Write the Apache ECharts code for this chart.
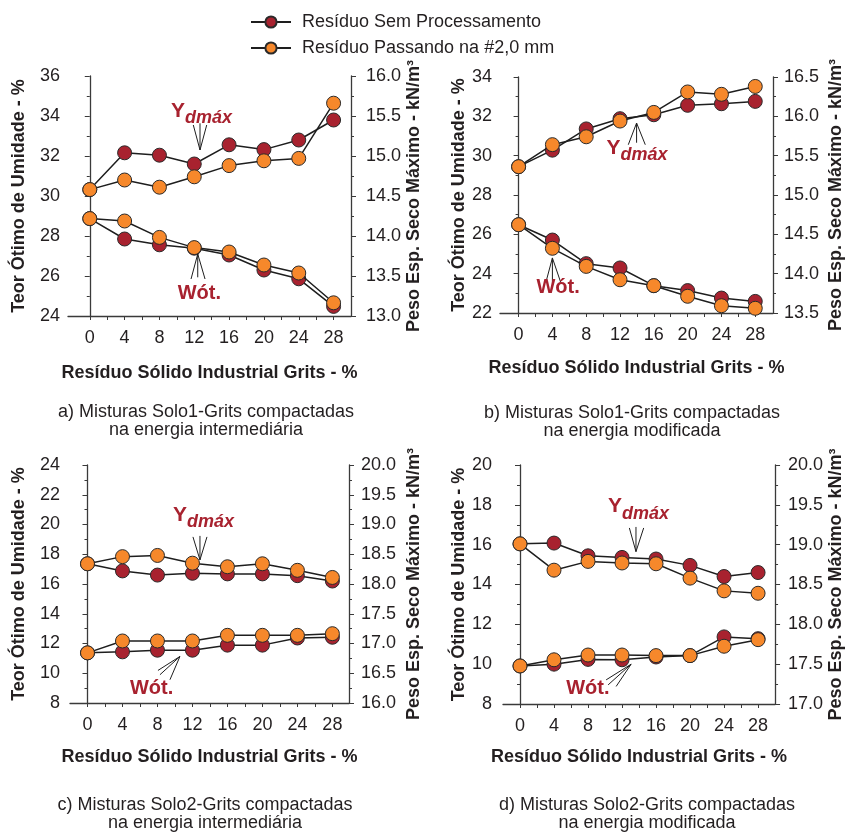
<!DOCTYPE html>
<html>
<head>
<meta charset="utf-8">
<script src="https://cdn.jsdelivr.net/npm/echarts@6/dist/echarts.min.js"></script>
<style>
html, body { margin: 0; background: #fff; }
#chart { width: 846px; height: 834px; }
</style>
</head>
<body>
<div id="chart"></div>
<script>
// x: residuo solido industrial grits (%)
var xValues = [0, 4, 8, 12, 16, 20, 24, 28];
var xTicks = [0, 2, 4, 6, 8, 10, 12, 14, 16, 18, 20, 22, 24, 26, 28];

var seriesNames = ['Resíduo Sem Processamento', 'Resíduo Passando na #2,0 mm'];

// a) Solo1 - energia intermediaria
var gammaA_sem  = [14.58, 15.04, 15.01, 14.90, 15.14, 15.08, 15.20, 15.45];
var gammaA_pass = [14.58, 14.70, 14.61, 14.74, 14.88, 14.94, 14.97, 15.66];
var wA_sem      = [28.87, 27.85, 27.56, 27.39, 27.05, 26.30, 25.86, 24.48];
var wA_pass     = [28.87, 28.75, 27.93, 27.42, 27.20, 26.55, 26.15, 24.66];

// b) Solo1 - energia modificada
var gammaB_sem  = [15.36, 15.57, 15.84, 15.97, 16.02, 16.14, 16.16, 16.19];
var gammaB_pass = [15.36, 15.64, 15.74, 15.94, 16.05, 16.31, 16.28, 16.38];
var wB_sem      = [26.49, 25.71, 24.51, 24.29, 23.39, 23.14, 22.76, 22.59];
var wB_pass     = [26.49, 25.29, 24.37, 23.69, 23.39, 22.85, 22.37, 22.24];

// c) Solo2 - energia intermediaria
var gammaC_sem  = [18.34, 18.22, 18.15, 18.18, 18.17, 18.17, 18.14, 18.05];
var gammaC_pass = [18.34, 18.46, 18.48, 18.35, 18.29, 18.34, 18.23, 18.11];
var wC_sem      = [11.37, 11.44, 11.55, 11.55, 11.89, 11.89, 12.37, 12.42];
var wC_pass     = [11.37, 12.17, 12.17, 12.17, 12.55, 12.55, 12.55, 12.66];

// d) Solo2 - energia modificada
var gammaD_sem  = [19.01, 19.02, 18.86, 18.84, 18.82, 18.74, 18.60, 18.65];
var gammaD_pass = [19.01, 18.68, 18.79, 18.77, 18.76, 18.58, 18.42, 18.39];
var wD_sem      = [9.91, 10.00, 10.24, 10.22, 10.36, 10.43, 11.37, 11.28];
var wD_pass     = [9.91, 10.22, 10.46, 10.46, 10.43, 10.43, 10.90, 11.23];

var captions = [
  'a) Misturas Solo1-Grits compactadas\nna energia intermediária',
  'b) Misturas Solo1-Grits compactadas\nna energia modificada',
  'c) Misturas Solo2-Grits compactadas\nna energia intermediária',
  'd) Misturas Solo2-Grits compactadas\nna energia modificada'
];

var FONT = '"Liberation Sans", Arial, sans-serif';
var INK = '#231f20';
var RED = '#a8222f';
var ORANGE = '#f6882b';

var panels = [
  { grid: {left: 68, top: 76, width: 283, height: 240}, xMin: -2.5, xMax: 30,
    wMin: 24, wMax: 36, gMin: 13, gMax: 16, leftGap: 40, rightGap: 54, xGap: 48,
    lMargin: 8, rMargin: 15, cap: [206, 403],
    gamma: [gammaA_sem, gammaA_pass], w: [wA_sem, wA_pass] },
  { grid: {left: 500, top: 77, width: 276, height: 236}, xMin: -2.2, xMax: 30.1,
    wMin: 22, wMax: 34, gMin: 13.5, gMax: 16.5, leftGap: 32, rightGap: 54, xGap: 46,
    lMargin: 8, rMargin: 11, cap: [632, 404],
    gamma: [gammaB_sem, gammaB_pass], w: [wB_sem, wB_pass] },
  { grid: {left: 70, top: 465, width: 279, height: 238}, xMin: -2, xMax: 29.9,
    wMin: 8, wMax: 24, gMin: 16, gMax: 20, leftGap: 42, rightGap: 56, xGap: 45,
    lMargin: 10, rMargin: 12, cap: [205, 796],
    gamma: [gammaC_sem, gammaC_pass], w: [wC_sem, wC_pass] },
  { grid: {left: 503, top: 465, width: 277, height: 239}, xMin: -2, xMax: 30,
    wMin: 8, wMax: 20, gMin: 17, gMax: 20, leftGap: 35, rightGap: 50, xGap: 44,
    lMargin: 11, rMargin: 13, cap: [647, 796],
    gamma: [gammaD_sem, gammaD_pass], w: [wD_sem, wD_pass] }
];

// annotation arrows: anchor in data units (x, left axis), offsets in px
var annotations = [
  { p: 0, kind: 'Y', at: [12.66, 32.3], legs: [[-6.7, -25], [0, -26.7], [6.7, -25]], text: [-29, -39] },
  { p: 0, kind: 'W', at: [12.4, 27.1], legs: [[-6.7, 25], [0, 23.3], [7.3, 25]], text: [-20, 39] },
  { p: 1, kind: 'Y', at: [13.96, 31.66], legs: [[-8.3, 21.7], [0, 19.7], [8.7, 21.7]], text: [-30, 25] },
  { p: 1, kind: 'W', at: [4.0, 24.8], legs: [[-6.6, 24.7], [0, 23.7], [8.4, 24.7]], text: [-16, 30] },
  { p: 2, kind: 'Y', at: [12.86, 17.62], legs: [[-7, -23], [0, -24], [7, -23]], text: [-27, -45] },
  { p: 2, kind: 'W', at: [10.57, 11.13], legs: [[-22, 14], [-20, 18.3], [-10, 23.3]], text: [-50, 32] },
  { p: 3, kind: 'Y', at: [13.64, 15.65], legs: [[-6.6, -23.7], [0, -24.7], [7.7, -23.7]], text: [-28, -45] },
  { p: 3, kind: 'W', at: [13.07, 10.0], legs: [[-25, 15.7], [-23, 20.7], [-15, 22.3]], text: [-65, 24] }
];

function pairs(ys) {
  return xValues.map(function (x, i) { return [x, ys[i]]; });
}

var grids = [], xAxes = [], yAxes = [], series = [], graphics = [];
var axisLine = { show: true, lineStyle: { color: '#3a3a3a', width: 1.3 } };

panels.forEach(function (p, i) {
  grids.push(p.grid);
  xAxes.push({
    type: 'value', gridIndex: i, min: p.xMin, max: p.xMax,
    name: 'Resíduo Sólido Industrial Grits - %', nameLocation: 'middle', nameGap: p.xGap,
    nameTextStyle: { fontFamily: FONT, fontSize: 18, fontWeight: 'bold', color: INK },
    axisLine: axisLine, splitLine: { show: false },
    axisTick: { show: true, length: 4, customValues: xTicks, lineStyle: { color: '#3a3a3a' } },
    axisLabel: { customValues: xValues, margin: 13, fontFamily: FONT, fontSize: 18, color: INK }
  });
  yAxes.push({
    type: 'value', gridIndex: i, position: 'left', min: p.wMin, max: p.wMax, interval: 2,
    name: 'Teor Ótimo de Umidade - %', nameLocation: 'middle', nameRotate: 90, nameGap: p.leftGap,
    nameTextStyle: { fontFamily: FONT, fontSize: 18, fontWeight: 'bold', color: INK },
    axisLine: axisLine, splitLine: { show: false },
    axisTick: { show: true, length: 5, lineStyle: { color: '#3a3a3a' } },
    minorTick: { show: true, splitNumber: 2, length: 3, lineStyle: { color: '#3a3a3a' } },
    axisLabel: { margin: p.lMargin, fontFamily: FONT, fontSize: 18, color: INK }
  });
  yAxes.push({
    type: 'value', gridIndex: i, position: 'right', min: p.gMin, max: p.gMax, interval: 0.5,
    name: 'Peso Esp. Seco Máximo - kN/m³', nameLocation: 'middle', nameRotate: 90, nameGap: p.rightGap,
    nameTextStyle: { fontFamily: FONT, fontSize: 18, fontWeight: 'bold', color: INK },
    axisLine: axisLine, splitLine: { show: false },
    axisTick: { show: true, length: 5, lineStyle: { color: '#3a3a3a' } },
    minorTick: { show: true, splitNumber: 2, length: 3, lineStyle: { color: '#3a3a3a' } },
    axisLabel: { margin: p.rMargin, fontFamily: FONT, fontSize: 18, color: INK,
      formatter: function (v) { return v.toFixed(1); } }
  });

  [0, 1].forEach(function (k) {
    var style = {
      type: 'line', xAxisIndex: i, symbol: 'circle', symbolSize: 14,
      itemStyle: { color: k === 0 ? RED : ORANGE, borderColor: '#2a2a2a', borderWidth: 1 },
      lineStyle: { color: '#1e1e1e', width: 1.5 }, animation: false, z: 2 + k
    };
    series.push(Object.assign({}, style, { name: seriesNames[k], yAxisIndex: 2 * i + 1, data: pairs(p.gamma[k]) }));
    series.push(Object.assign({}, style, { name: seriesNames[k], yAxisIndex: 2 * i, data: pairs(p.w[k]) }));
  });

  graphics.push({
    type: 'text', x: p.cap[0], y: p.cap[1],
    style: { text: captions[i], align: 'center', verticalAlign: 'top', lineHeight: 18,
      font: '18px ' + FONT, fill: INK }
  });
});

var chart = echarts.init(document.getElementById('chart'));
chart.setOption({
  animation: false,
  legend: {
    data: seriesNames, orient: 'vertical', left: 250, top: 13, padding: 0,
    itemWidth: 40, itemHeight: 14, itemGap: 8,
    textStyle: { fontFamily: FONT, fontSize: 18, color: INK, padding: [0, 0, 0, 6] }
  },
  grid: grids, xAxis: xAxes, yAxis: yAxes, series: series
});

annotations.forEach(function (a) {
  var c = chart.convertToPixel({ xAxisIndex: a.p, yAxisIndex: 2 * a.p }, a.at);
  a.legs.forEach(function (l) {
    graphics.push({ type: 'line', shape: { x1: c[0], y1: c[1], x2: c[0] + l[0], y2: c[1] + l[1] },
      style: { stroke: '#1e1e1e', lineWidth: 1 }, z: 10 });
  });
  var tx = c[0] + a.text[0], ty = c[1] + a.text[1];
  if (a.kind === 'Y') {
    graphics.push({ type: 'text', x: tx, y: ty, z: 10,
      style: { text: 'Y', font: 'bold 21px ' + FONT, fill: RED, align: 'left', verticalAlign: 'middle' } });
    graphics.push({ type: 'text', x: tx + 14, y: ty + 7, z: 10,
      style: { text: 'dmáx', font: 'italic bold 18px ' + FONT, fill: RED, align: 'left', verticalAlign: 'middle' } });
  } else {
    graphics.push({ type: 'text', x: tx, y: ty, z: 10,
      style: { text: 'Wót.', font: 'bold 20px ' + FONT, fill: RED, align: 'left', verticalAlign: 'middle' } });
  }
});

chart.setOption({ graphic: graphics });
</script>
</body>
</html>
